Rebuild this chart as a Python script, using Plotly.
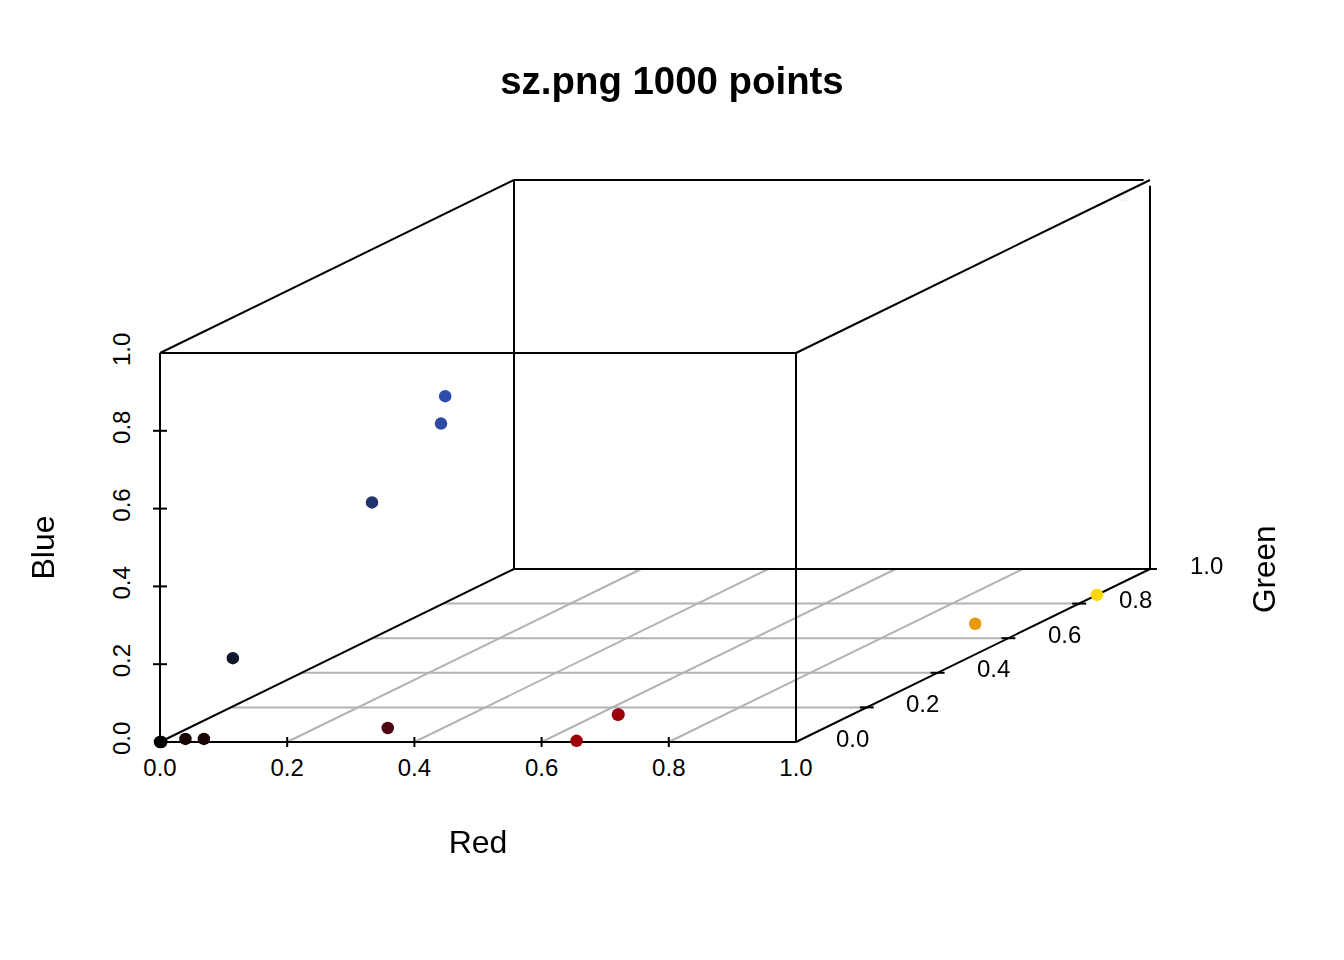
import plotly.graph_objects as go

# ---- data (unit cube values) ----
red   = [0.000, 0.002, 0.040, 0.069, 0.070, 0.347, 0.222, 0.286, 0.287, 0.655, 0.720, 0.721, 0.920, 1.000, 0.980]
green = [0.000, 0.000, 0.000, 0.000, 0.080, 0.020, 0.200, 0.280, 0.290, 0.000, 0.000, 0.000, 0.650, 0.850, 0.960]
blue  = [0.000, 0.000, 0.008, 0.008, 0.180, 0.027, 0.527, 0.694, 0.760, 0.003, 0.070, 0.071, 0.015, 0.000, 0.977]
point_colors = ["#000000", "#000000", "#1a0505", "#1c0404", "#10162e", "#4d0613", "#213470", "#2e4aa5",
                "#2e4cac", "#9b000c", "#9b000c", "#9b000c", "#e69a0c", "#ffd60a", "#f5f5f5"]
tick_vals = [0.0, 0.2, 0.4, 0.6, 0.8, 1.0]
tick_text = ["0.0", "0.2", "0.4", "0.6", "0.8", "1.0"]
inner_ticks = [0.2, 0.4, 0.6, 0.8]

# ---- layout geometry ----
W, H = 1344, 960
BOX_L, BOX_R, BOX_T, BOX_B = 160, 796, 353, 742
UX, UY = BOX_R - BOX_L, BOX_B - BOX_T   # px per unit of red / blue
GDX, GDY = 354 / UX, 173 / UY           # green direction in projected units
FONT = "Liberation Sans"


def px(r, g):
    return r + GDX * g


def py(b, g):
    return b + GDY * g


def seg(x0, y0, x1, y1):
    return [x0, x1, None], [y0, y1, None]


def add_lines(fig, segments, color, width):
    xs, ys = [], []
    for s in segments:
        a, b = seg(*s)
        xs += a
        ys += b
    fig.add_trace(go.Scatter(x=xs, y=ys, mode="lines", xaxis="x2", yaxis="y2", hoverinfo="skip",
                             line=dict(color=color, width=width), showlegend=False))


def cube(r, g, b):
    return px(r, g), py(b, g)


fig = go.Figure()
# anchor trace so the real axes are shown
fig.add_trace(go.Scatter(x=[0, 1], y=[0, 1], mode="markers", opacity=0, hoverinfo="skip", showlegend=False))

# floor grid
grid = []
for v in inner_ticks:
    grid.append((*cube(0, v, 0), *cube(1, v, 0)))
    grid.append((*cube(v, 0, 0), *cube(v, 1, 0)))
add_lines(fig, grid, "#b3b3b3", 2)

# box frame behind the points
back_edges = [
    ((0, 0, 0), (1, 0, 0)), ((0, 0, 0), (0, 0, 1)),
    ((0, 0, 0), (0, 1, 0)), ((1, 0, 0), (1, 1, 0)), ((0, 1, 0), (1, 1, 0)),
    ((0, 1, 0), (0, 1, 1)), ((0, 1, 1), (0.99, 1, 1)), ((1, 1, 0), (1, 1, 0.985)),
]
add_lines(fig, [(*cube(*a), *cube(*b)) for a, b in back_edges], "#000000", 2)

# tick marks
ticks = []
for v in inner_ticks:
    x0, y0 = cube(v, 0, 0)
    ticks.append((x0, y0 - 5 / UY, x0, y0 + 5 / UY))
    x0, y0 = cube(0, 0, v)
    ticks.append((x0 - 7 / UX, y0, x0 + 7 / UX, y0))
for v in inner_ticks + [1.0]:
    x0, y0 = cube(1, v, 0)
    ticks.append((x0 - 7 / UX, y0, x0 + 7 / UX, y0))
add_lines(fig, ticks, "#000000", 2)

# points
fig.add_trace(go.Scatter(
    x=[px(r, g) for r, g in zip(red, green)],
    y=[py(b, g) for b, g in zip(blue, green)],
    mode="markers", xaxis="x2", yaxis="y2", showlegend=False,
    marker=dict(color=point_colors, size=12.5, line=dict(width=0)),
))

# front edges of the box, over the points
front_edges = [
    ((0, 0, 1), (1, 0, 1)), ((1, 0, 0), (1, 0, 1)), ((0, 0, 1), (0, 1, 1)), ((1, 0, 1), (1, 1, 1)),
]
add_lines(fig, [(*cube(*a), *cube(*b)) for a, b in front_edges], "#000000", 2)

# green tick labels and title
annotations = []
for v, t in zip(tick_vals, tick_text):
    x0, y0 = cube(1, v, 0)
    annotations.append(dict(x=x0, y=y0, xref="x2", yref="y2", text=t, showarrow=False,
                            xshift=56, yshift=4, font=dict(family=FONT, size=24, color="#000000")))
annotations.append(dict(x=(1264 - BOX_L) / UX, y=(BOX_B - 569) / UY, xref="x2", yref="y2", text="Green",
                        textangle=-90, showarrow=False, font=dict(family=FONT, size=31.5, color="#000000")))

axis_common = dict(showgrid=False, zeroline=False, showline=False, ticks="outside",
                   tickcolor="rgba(0,0,0,0)", tickmode="array", tickvals=tick_vals, ticktext=tick_text,
                   tickfont=dict(family=FONT, size=24, color="#000000"), range=[0, 1], automargin=False)

fig.update_layout(
    width=W, height=H, margin=dict(l=0, r=0, t=0, b=0),
    paper_bgcolor="#ffffff", plot_bgcolor="rgba(0,0,0,0)", showlegend=False,
    title=dict(text="<b>sz.png 1000 points</b>", x=0.5, xanchor="center", y=1 - 81 / H, yanchor="middle",
               font=dict(family=FONT, size=38.4, color="#000000")),
    xaxis=dict(domain=[BOX_L / W, BOX_R / W], anchor="y", ticklen=4,
               title=dict(text="Red", standoff=50, font=dict(family=FONT, size=32, color="#000000")),
               **axis_common),
    yaxis=dict(domain=[(H - BOX_B) / H, (H - BOX_T) / H], anchor="x", ticklen=19, tickangle=-90,
               title=dict(text="Blue", standoff=44, font=dict(family=FONT, size=32, color="#000000")),
               **axis_common),
    xaxis2=dict(domain=[0, 1], anchor="y2", visible=False, range=[-BOX_L / UX, (W - BOX_L) / UX]),
    yaxis2=dict(domain=[0, 1], anchor="x2", visible=False, range=[-(H - BOX_B) / UY, BOX_B / UY]),
    annotations=annotations,
)

fig.write_html("out.html", config={"displayModeBar": False}, post_script="document.body.style.margin='0';")
